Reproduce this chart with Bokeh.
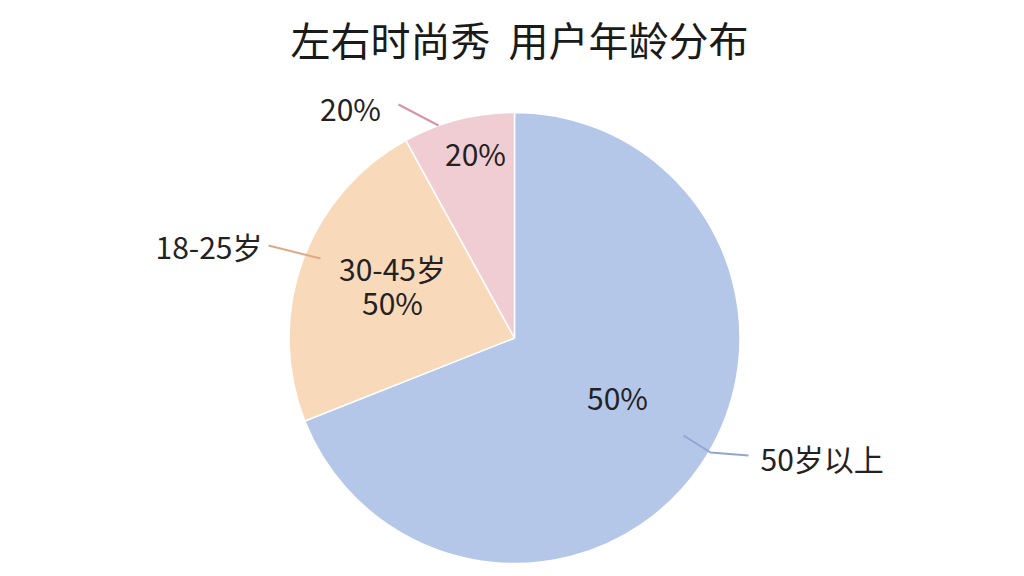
import numpy as np
from bokeh.plotting import figure
from bokeh.models import Range1d, ColumnDataSource
from bokeh.core.properties import value
from bokeh.embed import file_html
from bokeh.resources import INLINE

# ---- data ----
title_text = "左右时尚秀\u00a0\u00a0用户年龄分布"
categories = ["50岁以上", "18-25岁", "20%"]
shares = [69, 23, 8]
inner_labels = ["50%", "30-45岁\n50%", "20%"]
outer_labels = ["50岁以上", "18-25岁", "20%"]
colors = ["#b4c7e8", "#f8d9ba", "#f0cdd3"]
leader_colors = ["#93a3d6", "#dfa985", "#d893a6"]

FONT = "Noto Sans CJK SC"
W, H = 1016, 568

p = figure(width=W, height=H, output_backend="svg", toolbar_location=None,
           x_range=Range1d(0, W), y_range=Range1d(576 - H, 576),
           min_border=0, outline_line_color=None, background_fill_color="white",
           border_fill_color="white")
p.axis.visible = False
p.grid.visible = False

def Y(sy):
    return 576 - sy

cx, cy, R = 514, Y(337.5), 225.5

vals = np.array(shares, dtype=float)
frac = vals / vals.sum()
cum = np.concatenate([[0], np.cumsum(frac)])
start = np.pi / 2 - cum[:-1] * 2 * np.pi
end = np.pi / 2 - cum[1:] * 2 * np.pi

src = ColumnDataSource(dict(start=start, end=end, color=colors))
p.wedge(x=cx, y=cy, radius=R, start_angle="start", end_angle="end",
        direction="clock", fill_color="color", line_color="white",
        line_width=1.5, source=src)

TXT = "#222222"
FS = "30px"
LINE_GAP = 34

# inner labels (layout positions)
inner_pos = [(617, 396), (392, 284), (475, 152)]
for lab, (sx, sy) in zip(inner_labels, inner_pos):
    lines = lab.split("\n")
    n = len(lines)
    for i, ln in enumerate(lines):
        yy = sy + (i - (n - 1) / 2) * LINE_GAP
        p.text(x=[sx], y=[Y(yy)], text=[ln], text_font=value(FONT),
               text_font_size=FS, text_color=TXT, text_align="center",
               text_baseline="middle")

# leader lines
leaders = [
    [(683, 435), (710, 452), (748, 455)],
    [(320, 258), (268, 245)],
    [(438, 125), (398, 104)],
]
for pts, col in zip(leaders, leader_colors):
    p.line(x=[a for a, b in pts], y=[Y(b) for a, b in pts], line_color=col,
           line_width=2)

outer_pos = [(760, 457, "left"), (262, 245, "right"), (350, 107, "center")]
for lab, (sx, sy, al) in zip(outer_labels, outer_pos):
    p.text(x=[sx], y=[Y(sy)], text=[lab], text_font=value(FONT),
           text_font_size=FS, text_color=TXT, text_align=al,
           text_baseline="middle")

# title
p.text(x=[519], y=[Y(38)], text=[title_text], text_font=value(FONT),
       text_font_size="40px", text_color="#1a1a1a", text_align="center",
       text_baseline="middle")

open("out.html", "w").write(file_html(p, INLINE))
